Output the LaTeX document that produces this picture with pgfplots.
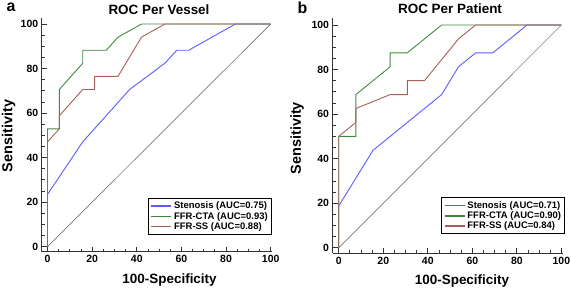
\documentclass[border=0pt]{standalone}
\usepackage{fontspec}
\setmainfont{Liberation Sans}
\usepackage{pgfplots}
\pgfplotsset{compat=1.18}
\definecolor{cblue}{HTML}{5C5CFF}
\definecolor{cgreen}{HTML}{408A40}
\definecolor{cred}{HTML}{A5605A}
\definecolor{axcol}{HTML}{333333}
\definecolor{diagcol}{HTML}{555555}

\pgfplotsset{
 rocstyle/.style={
  scale only axis, width=230bp,
  axis lines=left, axis line style={-, axcol, line width=1bp},
  xtick={0,20,...,100}, ytick={0,20,...,100}, minor tick num=3,
  tick align=inside, major tick length=5bp, minor tick length=3bp,
  every tick/.style={axcol, line width=0.8bp},
  /pgf/number format/assume math mode=true,
  tick label style={font=\fontsize{10.5}{10.5}\selectfont\bfseries},
  every axis y label/.style={rotate=90, anchor=center, font=\fontsize{14.5}{14.5}\selectfont\bfseries},
  every axis x label/.style={anchor=base, font=\fontsize{13.5}{13.5}\selectfont\bfseries},
  every axis title/.style={anchor=base, font=\fontsize{13.5}{13.5}\selectfont\bfseries},
  legend cell align=left,
  legend style={font=\fontsize{9.5}{9.5}\selectfont\bfseries, draw=black, line width=0.8bp, inner sep=2.5bp, nodes={inner sep=1bp}, anchor=north east, row sep=0pt, column sep=1bp},
  legend image code/.code={\draw[#1, line width=1.4bp] (7bp,0bp) -- (27bp,0bp);},
  every axis plot/.append style={line width=0.9bp},
 }
}

\begin{document}
\begin{tikzpicture}
\useasboundingbox (0,0) rectangle (572bp,-289bp);

% ---------------- Panel a ----------------
\begin{axis}[rocstyle,
  at={(41.7bp,-251.7bp)}, anchor=south west, height=233.7bp,
  xmin=-2.6, xmax=100.45, ymin=-2.25, ymax=102.7,
  title={ROC Per Vessel},
  title style={at={(axis description cs:0.51,1.017)}},
  xlabel={100-Specificity},
  xlabel style={at={(axis description cs:0.556,-0.138)}},
  ylabel={Sensitivity},
  ylabel style={at={(axis description cs:-0.144,0.495)}},
  legend style={at={(axis description cs:1.0,0.23)}},
]
\addplot[forget plot, draw=diagcol, line width=0.5bp] coordinates {(0,0) (100,100)};
\addplot[draw=cblue] coordinates {(0,0) (0,23.5) (15.8,47.1) (36.8,70.6) (52.6,82.4) (57.9,88.2) (63.2,88.2) (84.2,100) (100,100)};
\addlegendentry{Stenosis (AUC=0.75)}
\addplot[draw=cgreen] coordinates {(0,0) (0,52.9) (5.3,52.9) (5.3,70.6) (15.8,82.4) (15.8,88.2) (26.3,88.2) (31.6,94.1) (42.1,100) (100,100)};
\addlegendentry{FFR-CTA (AUC=0.93)}
\addplot[draw=cred] coordinates {(0,0) (0,47.1) (5.3,52.9) (5.3,58.8) (15.8,70.6) (21.1,70.6) (21.1,76.5) (31.6,76.5) (42.1,94.1) (52.6,100) (100,100)};
\addlegendentry{FFR-SS (AUC=0.88)}
\end{axis}

% ---------------- Panel b ----------------
\begin{axis}[rocstyle,
  at={(332.5bp,-253.3bp)}, anchor=south west, height=235bp,
  xmin=-2.8, xmax=100.5, ymin=-2.5, ymax=103,
  title={ROC Per Patient},
  title style={at={(axis description cs:0.511,1.021)}},
  xlabel={100-Specificity},
  xlabel style={at={(axis description cs:0.563,-0.131)}},
  ylabel={Sensitivity},
  ylabel style={at={(axis description cs:-0.154,0.49)}},
  legend style={at={(axis description cs:1.011,0.238)}},
]
\addplot[forget plot, draw=diagcol, line width=0.5bp] coordinates {(0,0) (100,100)};
\addplot[draw=cblue] coordinates {(0,0) (0,18.75) (15.4,43.75) (46.2,68.75) (53.8,81.25) (61.5,87.5) (69.2,87.5) (84.6,100) (100,100)};
\addlegendentry{Stenosis (AUC=0.71)}
\addplot[draw=cgreen] coordinates {(0,0) (0,50) (7.7,50) (7.7,68.75) (23.1,81.25) (23.1,87.5) (30.8,87.5) (46.2,100) (100,100)};
\addlegendentry{FFR-CTA (AUC=0.90)}
\addplot[draw=cred] coordinates {(0,0) (0,50) (7.7,56.25) (7.7,62.5) (23.1,68.75) (30.8,68.75) (30.8,75) (38.5,75) (53.8,93.75) (61.5,100) (100,100)};
\addlegendentry{FFR-SS (AUC=0.84)}
\end{axis}

\node[anchor=base west, font=\fontsize{16}{16}\selectfont\bfseries, inner sep=0pt] at (6.5bp,-11.7bp) {a};
\node[anchor=base west, font=\fontsize{16}{16}\selectfont\bfseries, inner sep=0pt] at (297.5bp,-13.3bp) {b};
\end{tikzpicture}
\end{document}
